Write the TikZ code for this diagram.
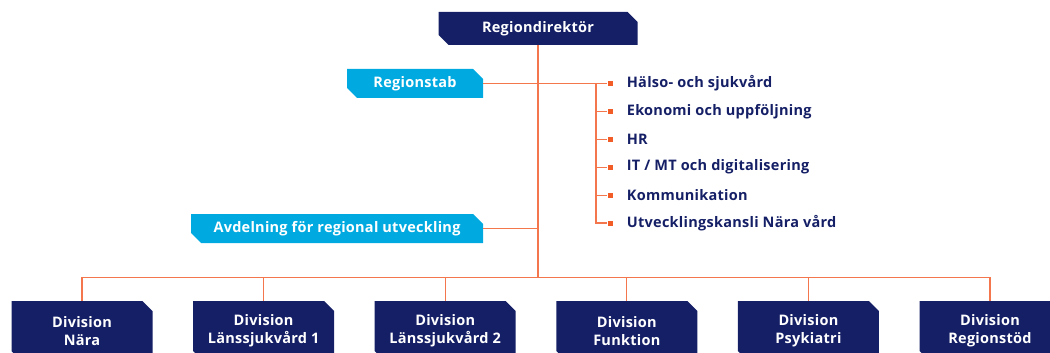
\documentclass[tikz,border=0pt]{standalone}
\usepackage{fontspec}
\setmainfont{Open Sans}[LetterSpace=1.8]
\usetikzlibrary{shapes.misc,positioning}
\definecolor{navy}{RGB}{21,31,102}
\definecolor{skyblue}{RGB}{0,170,224}
\definecolor{linkcol}{RGB}{243,118,76}
\definecolor{dotcol}{RGB}{242,92,39}
\tikzset{
  box/.style={chamfered rectangle, chamfered rectangle corners={north east,south west},
    chamfered rectangle xsep=5pt, chamfered rectangle ysep=5pt, inner sep=0pt,
    text=white, font=\fontsize{14.5}{18}\selectfont\bfseries, align=center},
  navybox/.style={box, fill=navy},
  bluebox/.style={box, fill=skyblue, minimum height=29pt},
  divbox/.style={navybox, minimum width=141pt, minimum height=60pt},
  link/.style={draw=linkcol, line width=1.2pt},
  dot/.style={fill=dotcol, inner sep=0pt, minimum size=5pt},
  item/.style={text=navy, inner sep=0pt, font=\fontsize{14.5}{16}\selectfont\bfseries}
}
\begin{document}
\begin{tikzpicture}[x=1pt,y=-1pt]
    \useasboundingbox (0,0) rectangle (1050,353);
    \clip (0,0) rectangle (1050,353);
    \node[navybox, minimum width=199pt, minimum height=33pt] (dir) at (538,28.5) {Regiondirektör};
    \node[bluebox, minimum width=136pt] (stab) at (415,83.5) {Regionstab};
    \node[bluebox, minimum width=292pt] (avd) at (337,228.5) {Avdelning för regional utveckling};
    \coordinate (bus) at (538,277.5);
    \coordinate (fork) at (596,83.5);
    \foreach \txt [count=\i] in {Hälso- och sjukvård,Ekonomi och uppföljning,HR,IT / MT och digitalisering,Kommunikation,Utvecklingskansli Nära vård}{
        \node[dot] (sq\i) at (610,{83.5+27.9*(\i-1)}) {};
        \node[item, right=14pt of sq\i] (it\i) {\txt};
    }
    \foreach \txt [count=\i] in {Nära,Länssjukvård 1,Länssjukvård 2,Funktion,Psykiatri,Regionstöd}
        \node[divbox] (div\i) at ({82+181.6*(\i-1)},331) {Division\\\txt};
    \begin{scope}[link]
        \draw (dir) -- (bus);
        \draw (stab.east) -- (sq1.west);
        \draw (fork) |- (sq6.west);
        \foreach \i in {2,...,5}
            \draw (fork |- sq\i) -- (sq\i.west);
        \draw (avd.east) -- (avd.east -| bus);
        \draw (div1.north) |- (bus) -| (div6.north);
        \foreach \i in {2,...,5}
            \draw (div\i.north) -- (div\i.north |- bus);
    \end{scope}
\end{tikzpicture}
\end{document}
